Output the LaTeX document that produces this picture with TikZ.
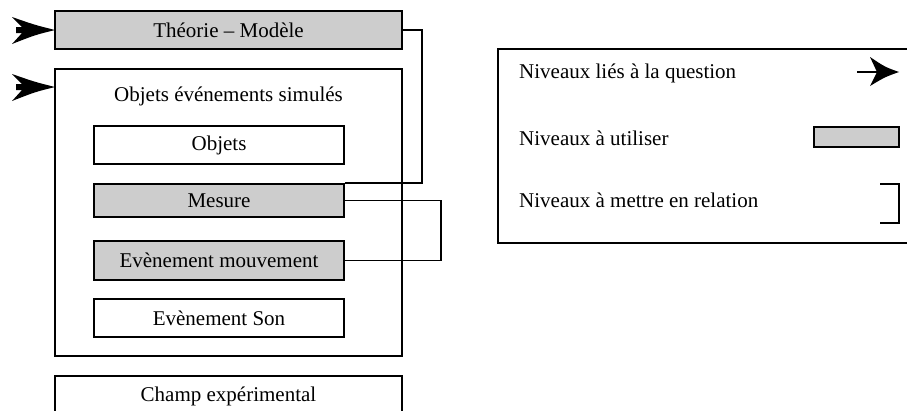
\documentclass[tikz,border=0pt]{standalone}
\usepackage{fontspec}
\setmainfont{Liberation Serif}
\definecolor{boxgray}{RGB}{205,205,205}
\tikzset{
  box/.style={draw=black, line width=1.8pt, rectangle, inner sep=0pt, font=\fontsize{21}{25}\selectfont},
  graybox/.style={box, fill=boxgray},
  txt/.style={inner sep=0pt, font=\fontsize{21}{25}\selectfont},
  conn/.style={draw=black, line width=1.6pt},
}
\begin{document}
\begin{tikzpicture}[x=1pt,y=-1pt]
\useasboundingbox (0,0) rectangle (907,410);
\fill[white] (0,0) rectangle (907,410);
% main column
\node[graybox, minimum width=347pt, minimum height=38pt] (theo) at (228.5,30) {Théorie – Modèle};
\node[box, minimum width=347pt, minimum height=287pt] (sim) at (228.5,212.5) {};
\node[txt] (simtxt) at (228.5,96) {Objets événements simulés};
\node[box, minimum width=250pt, minimum height=38pt] (obj) at (219,145) {Objets};
\node[graybox, minimum width=250pt, minimum height=33pt] (mes) at (219,200.5) {Mesure};
\node[graybox, minimum width=250pt, minimum height=39pt] (mouv) at (219,260.5) {Evènement mouvement};
\node[box, minimum width=250pt, minimum height=38pt] (son) at (219,318) {Evènement Son};
\begin{scope}
\clip (0,0) rectangle (907,410);
\node[box, minimum width=347pt, minimum height=40pt] (champ) at (228.5,396) {\raisebox{3pt}{Champ expérimental}};
\node[box, minimum width=417pt, minimum height=194pt] (leg) at (706.5,146) {};
\end{scope}
% connectors
\draw[conn] (theo.east) -- ++(19,0) |- (mes.north east);
\draw[conn] (mes.east) -- ++(96,0) |- (mouv.east);
% left arrows
\foreach \yy/\nm in {30/theo, 87/sim}{
  \fill[black] (55,\yy) .. controls (35,\yy-5) .. (12,\yy-13) -- (22,\yy-3) -- (16,\yy-3) -- (16,\yy+3) -- (22,\yy+3) -- (12,\yy+14) .. controls (35,\yy+5) .. (55,\yy) -- cycle;
}
% legend
\node[txt, anchor=west] (l1) at (519,73) {Niveaux liés à la question};
\node[txt, anchor=west] (l2) at (519,138) {Niveaux à utiliser};
\node[txt, anchor=west] (l3) at (519,200) {Niveaux à mettre en relation};
\coordinate (la) at (857,72);
\coordinate (lb) at (878,72);
\draw[line width=1.2pt] (la) -- (lb);
\fill[black] (899,72) .. controls (885,67) .. (870,57) -- (877,72) -- (870,86) .. controls (885,77) .. (899,72) -- cycle;
\draw[line width=1.8pt, fill=boxgray] (814,127) rectangle (899,147);
\draw[line width=1.8pt] (880,184) -- (899,184) -- (899,223) -- (880,223);
\end{tikzpicture}
\end{document}
